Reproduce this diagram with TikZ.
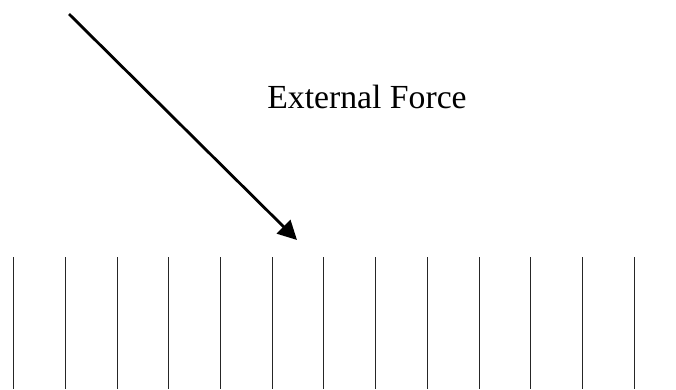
\documentclass[tikz,border=0pt]{standalone}
\usepackage{fontspec}
\setmainfont{Liberation Serif}
\usetikzlibrary{arrows.meta}
\begin{document}
\begin{tikzpicture}[x=1pt,y=-1pt,
  forcearrow/.style={line width=2.8pt,-{Triangle[length=19pt,width=19pt]}},
  wallline/.style={line width=0.9pt,black!85},
  label/.style={font=\fontsize{33.7}{40}\selectfont,inner sep=0pt,anchor=base}]
\useasboundingbox (0,0) rectangle (676,389);
\coordinate (start) at (69,14);
\coordinate (tip) at (297,240);
\draw[forcearrow] (start) -- (tip);
\node[label] (force) at (367,108) {External Force};
\foreach \i in {0,...,12}{
  \draw[wallline] ({13.7+51.7*\i},257) -- ({13.7+51.7*\i},389);
}
\end{tikzpicture}
\end{document}
